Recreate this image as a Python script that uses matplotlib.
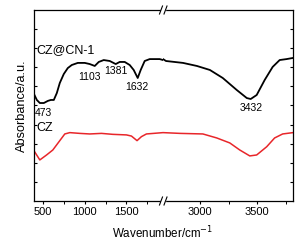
import numpy as np
import matplotlib
matplotlib.use('Agg')
import matplotlib.pyplot as plt
from matplotlib.lines import Line2D
from matplotlib.patches import Rectangle

plt.rcParams['font.family'] = ['Liberation Sans', 'DejaVu Sans']

# CZ@CN-1 (black), low wavenumber segment
cn_lo_x = [390, 424, 460, 508, 556, 592, 628, 664, 700, 748, 796, 844, 916, 1000,
           1060, 1120, 1168, 1228, 1300, 1372, 1420, 1480, 1540, 1588, 1636, 1672,
           1720, 1780, 1900, 1940]
cn_lo_y = [5.60, 5.29, 5.13, 5.13, 5.24, 5.29, 5.29, 5.65, 6.18, 6.65, 6.96, 7.12,
           7.23, 7.23, 7.17, 7.07, 7.28, 7.38, 7.33, 7.17, 7.28, 7.28, 7.12, 6.86,
           6.44, 6.86, 7.33, 7.43, 7.43, 7.38]
# CZ@CN-1, high wavenumber segment
cn_hi_x = [2679, 2705, 2853, 2974, 3087, 3199, 3321, 3408, 3442, 3494, 3564, 3633,
           3694, 3754, 3810]
cn_hi_y = [7.43, 7.33, 7.23, 7.07, 6.86, 6.44, 5.81, 5.39, 5.34, 5.55, 6.34, 7.02,
           7.38, 7.43, 7.49]

# CZ (red)
cz_lo_x = [390, 460, 541, 616, 700, 760, 820, 940, 1060, 1201, 1336, 1501, 1561,
           1628, 1681, 1741, 1940]
cz_lo_y = [2.63, 2.15, 2.41, 2.67, 3.16, 3.51, 3.58, 3.54, 3.51, 3.54, 3.49, 3.46,
           3.40, 3.16, 3.37, 3.51, 3.58]
cz_hi_x = [2679, 2827, 3026, 3147, 3260, 3347, 3434, 3494, 3581, 3650, 3720, 3810]
cz_hi_y = [3.58, 3.54, 3.51, 3.30, 3.04, 2.67, 2.36, 2.41, 2.84, 3.30, 3.51, 3.58]

W, H = 308, 245
fig = plt.figure(figsize=(W / 100, H / 100), dpi=100)
ax1 = fig.add_axes([34 / W, 44 / H, 129 / W, 191 / H])
ax2 = fig.add_axes([163 / W, 44 / H, 130 / W, 191 / H], sharey=ax1)

for ax, cx, cy, rx, ry in [(ax1, cn_lo_x, cn_lo_y, cz_lo_x, cz_lo_y),
                           (ax2, cn_hi_x, cn_hi_y, cz_hi_x, cz_hi_y)]:
    ax.plot(cx, cy, color='black', lw=1.3)
    ax.plot(rx, ry, color='#e8262a', lw=1.1)
    for s in ax.spines.values():
        s.set_linewidth(0.9)
    ax.tick_params(axis='x', direction='out', length=2.5, width=0.8, labelsize=8, pad=1.5)
    ax.tick_params(axis='x', which='minor', direction='out', length=1.8, width=0.7)
    ax.tick_params(axis='y', direction='in', length=2.5, width=0.8, labelleft=False, labelright=False)

ax1.set_xlim(390, 1940)
ax2.set_xlim(2679, 3810)
ax1.set_ylim(0, 10)
ax1.set_xticks([500, 1000, 1500])
ax1.set_xticks([750, 1250, 1750], minor=True)
ax2.set_xticks([3000, 3500])
ax2.set_xticks([3250, 3750], minor=True)
ax1.set_yticks(np.arange(1, 10))

ax1.spines['right'].set_visible(False)
ax2.spines['left'].set_visible(False)
ax1.tick_params(axis='y', left=True, right=False)
ax2.tick_params(axis='y', left=False, right=True)

ax1.set_ylabel('Absorbance/a.u.', fontsize=9.2, labelpad=4)
fig.text(163 / W, 12 / H, 'Wavenumber/cm$^{-1}$', ha='center', va='center', fontsize=8.4)

ax1.text(420, 7.9, 'CZ@CN-1', fontsize=9, va='center')
ax1.text(420, 3.8, 'CZ', fontsize=9, va='center')
ax1.text(395, 4.6, '473', fontsize=7.5, va='center')
ax1.text(1060, 6.5, '1103', fontsize=7.5, va='center', ha='center')
ax1.text(1370, 6.8, '1381', fontsize=7.5, va='center', ha='center')
ax1.text(1630, 5.95, '1632', fontsize=7.5, va='center', ha='center')
ax2.text(3445, 4.85, '3432', fontsize=7.5, va='center', ha='center')

# axis break marks
for yp in (10, 201):
    fig.add_artist(Rectangle(((160.5) / W, (H - yp - 1.5) / H), 4 / W, 3 / H,
                             transform=fig.transFigure, color='white', zorder=5))
    for xo in (159.5, 164):
        fig.add_artist(Line2D([xo / W, (xo + 3) / W], [(H - yp - 4) / H, (H - yp + 4) / H],
                              transform=fig.transFigure, color='black', lw=0.8, zorder=6))

fig.savefig('out.png', dpi=100)
